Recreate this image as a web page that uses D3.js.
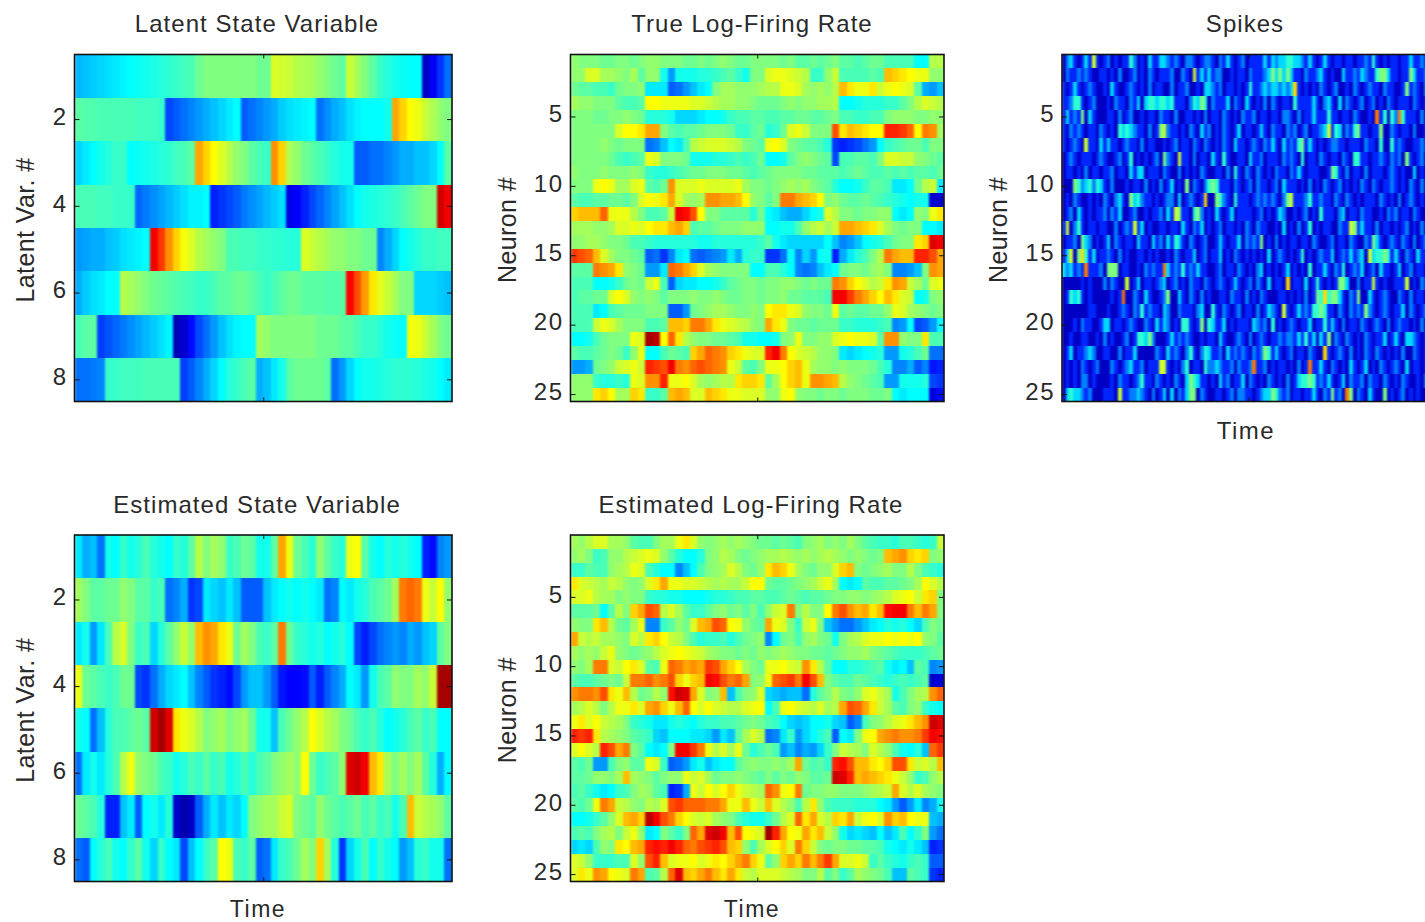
<!DOCTYPE html>
<html><head><meta charset="utf-8">
<script src="https://cdnjs.cloudflare.com/ajax/libs/d3/7.8.5/d3.min.js"></script>
<style>html,body{margin:0;padding:0;background:#fff;overflow:hidden}svg{display:block}text{font-family:"Liberation Sans",Arial,sans-serif;fill:#2a2a2a}</style>
</head><body><svg id="c" width="1425" height="922"></svg>
<script>
// Colour levels are percent positions along the jet colormap.
const latentState=[
[29,30,31,32,33,34,35,36,37,38,39,40,41,42,43,44,48,50,50,50,50,50,50,50,48,48,60,59,58,56,55,54,52,50,48,46,58,54,50,46,42,40,38,37,36,36,6,10,16,22],
[46,45,45,44,44,44,44,44,43,43,43,42,18,20,22,24,26,28,30,32,34,36,20,22,24,26,28,31,33,34,35,36,22,25,28,30,33,35,36,36,36,38,72,68,64,62,58,55,52,50],
[32,34,36,38,40,42,42,36,37,38,39,40,41,43,44,46,72,68,64,60,56,52,50,46,44,42,74,68,55,52,48,46,44,42,40,38,38,20,20,22,22,24,26,28,28,30,30,32,36,46],
[44,44,44,43,43,42,42,42,21,23,25,27,29,31,33,35,35,36,14,16,18,20,23,25,27,29,31,33,9,11,14,18,21,24,27,30,33,36,38,39,40,41,42,44,46,48,50,50,92,88],
[26,27,28,28,30,31,33,34,35,36,88,82,74,68,63,60,56,54,52,50,44,44,43,43,42,42,41,41,40,40,60,58,56,54,52,52,50,50,48,48,24,28,32,36,38,40,42,42,43,43],
[28,31,33,34,36,36,56,54,52,50,48,47,46,45,44,43,42,42,44,46,46,48,48,46,44,42,44,46,48,48,46,46,46,45,45,46,87,80,73,66,61,58,54,50,50,32,32,32,31,30],
[44,46,46,17,19,21,23,25,27,29,31,33,35,5,7,12,18,22,26,30,33,35,36,36,54,52,50,50,50,50,50,50,48,48,48,46,46,44,42,42,40,38,37,36,63,62,58,54,50,48],
[22,22,23,24,42,42,43,43,43,44,44,44,44,44,17,20,24,28,32,36,40,42,44,46,28,30,34,38,46,48,48,48,48,46,22,26,32,36,38,38,39,40,41,41,41,40,39,38,36,34]
];
const estimatedState=[
[34,28,30,22,38,36,42,38,40,44,40,38,36,42,40,46,56,50,54,52,42,44,48,46,38,38,46,72,62,48,44,40,52,46,42,40,62,64,46,38,36,40,38,40,38,36,14,12,24,26],
[54,50,46,46,48,48,52,50,46,46,42,44,22,24,28,16,18,34,32,30,34,30,20,20,20,30,34,36,38,36,38,36,34,22,24,36,34,38,40,44,46,48,54,76,78,76,62,58,64,52],
[34,38,26,34,44,56,60,50,42,44,32,40,46,52,58,52,70,74,72,66,62,48,54,50,44,42,46,76,48,42,40,38,40,36,38,40,36,18,14,18,22,24,26,24,28,26,30,32,46,50],
[62,48,46,44,42,44,48,48,18,16,22,28,32,34,36,30,24,20,16,14,12,18,26,30,30,26,20,13,11,11,12,20,14,20,24,28,36,34,26,38,44,46,52,50,50,54,52,58,96,96],
[38,36,22,30,40,44,44,46,48,46,92,96,90,66,62,60,56,50,52,54,50,52,54,48,38,38,30,44,48,52,56,64,60,56,54,50,48,44,42,44,40,36,38,40,44,46,42,44,36,36],
[22,34,38,34,40,44,56,62,52,50,48,44,42,38,40,44,42,46,42,44,38,40,44,40,44,46,50,52,54,52,64,48,42,44,46,52,90,92,88,70,66,54,50,54,50,54,46,40,28,36],
[48,46,44,40,14,14,30,34,20,36,38,34,40,7,4,6,20,28,34,30,34,32,36,50,52,54,54,58,60,50,48,46,52,48,46,44,46,48,44,46,42,44,38,44,70,58,56,54,52,46],
[22,20,36,40,44,38,36,42,46,38,32,42,36,34,18,30,36,42,46,64,62,44,42,46,20,22,34,42,44,48,54,50,68,54,40,16,32,38,44,36,42,38,36,26,30,40,42,38,38,22]
];
const trueRate=[
[52,50,50,50,48,48,50,50,48,50,52,52,50,50,50,48,48,50,48,50,52,50,48,48,50,50,50,50,48,50,46,46,48,46,48,50,46,46,44,46,48,48,44,44,44,44,36,36,56,56],
[52,52,60,60,54,54,52,50,54,46,52,52,38,26,38,38,38,40,40,42,44,46,42,38,50,50,60,62,62,60,58,56,42,42,52,58,44,44,44,44,46,44,70,68,66,64,62,62,52,52],
[48,46,46,44,44,42,48,50,50,52,34,34,34,20,22,26,30,34,36,50,54,54,52,52,52,54,56,56,62,62,60,54,52,54,52,56,70,66,62,62,66,58,62,64,62,60,46,28,26,30],
[54,52,52,50,50,50,46,44,44,46,64,64,62,62,62,62,60,60,58,56,54,54,52,52,50,48,48,48,50,52,50,52,52,54,54,56,36,36,38,40,40,40,42,42,46,50,56,60,58,56],
[50,50,50,48,48,50,50,52,50,48,40,40,40,38,32,32,32,34,36,36,38,42,44,44,46,46,44,44,46,46,48,48,46,46,48,50,44,44,42,42,44,44,50,52,52,52,50,50,52,52],
[50,50,50,50,50,50,60,64,64,66,72,72,50,46,44,46,46,48,50,50,50,48,42,42,46,48,40,42,48,60,62,58,50,50,50,80,66,70,68,66,64,64,84,84,82,78,64,76,74,54],
[50,50,50,50,52,50,48,50,50,50,22,24,30,36,34,44,56,58,60,60,60,58,56,50,48,46,62,64,60,50,48,46,46,44,40,16,14,16,18,22,26,36,42,44,46,48,48,44,50,50],
[50,50,50,50,50,48,44,42,44,46,62,60,50,50,50,48,38,38,38,40,40,42,44,42,44,48,36,36,38,46,50,52,50,48,46,18,44,44,46,46,44,50,60,60,58,58,52,50,48,46],
[52,50,50,50,52,50,50,50,52,50,42,40,40,42,44,46,48,48,50,50,50,48,48,46,44,46,48,50,50,50,50,48,48,46,46,46,44,46,48,46,44,44,46,44,46,44,46,46,44,48],
[50,50,50,62,64,62,54,54,60,62,46,44,48,74,60,60,60,62,60,60,60,60,62,54,50,50,48,50,52,54,52,54,50,48,46,40,36,36,38,42,46,46,44,34,34,36,48,56,58,34],
[46,44,44,46,46,48,48,46,50,60,64,62,66,72,60,54,52,54,74,74,72,72,70,64,52,50,46,50,76,76,72,70,68,64,50,52,48,46,46,48,46,44,42,40,38,36,38,38,7,7],
[68,70,70,70,78,62,62,62,56,50,44,44,46,58,88,86,80,64,50,50,46,46,46,46,40,48,36,34,30,28,28,32,36,38,60,56,50,50,48,50,50,52,52,36,34,36,52,50,62,66],
[54,54,54,52,52,54,60,60,62,60,64,66,66,70,72,68,44,46,46,48,50,50,50,52,52,52,36,36,38,38,44,52,56,58,54,58,72,72,70,68,66,60,54,50,48,50,50,36,36,34],
[52,52,54,54,52,50,50,48,44,44,42,40,40,40,40,40,40,38,38,40,40,40,40,40,40,42,46,38,34,32,32,32,32,32,36,30,24,26,30,36,38,40,44,48,50,50,66,68,90,88],
[82,80,78,70,60,54,50,50,48,46,20,22,16,24,34,36,22,20,22,24,26,34,28,40,42,42,16,16,22,36,24,32,26,36,38,14,28,34,40,44,50,56,76,72,70,70,84,84,80,72],
[46,46,46,76,74,72,66,52,50,48,26,26,34,78,76,72,68,60,54,52,50,50,50,50,36,36,44,44,40,36,24,22,24,30,34,36,48,50,50,48,52,54,50,24,24,26,30,50,74,72],
[44,44,44,36,36,38,42,48,50,48,58,62,44,20,32,34,34,36,36,38,42,46,48,50,50,48,50,50,52,52,50,48,50,48,48,76,74,68,64,60,56,58,66,74,72,58,54,48,60,62],
[44,46,46,48,48,60,64,60,52,50,52,50,46,50,50,50,52,50,50,52,50,48,48,50,50,48,50,50,52,48,48,46,46,46,44,88,88,82,76,72,68,64,70,66,60,58,36,38,50,52],
[44,44,44,34,36,44,46,48,48,48,50,50,50,20,20,26,48,50,52,54,54,52,50,50,52,50,64,66,66,62,60,52,50,50,48,62,46,48,46,46,48,48,52,62,60,54,52,50,48,50],
[44,44,44,58,62,60,54,50,50,50,44,44,46,70,70,68,76,76,72,66,62,60,58,56,52,50,72,66,62,50,48,48,46,48,48,48,42,42,40,40,40,42,44,24,26,36,18,20,26,36],
[36,36,38,44,48,50,50,50,62,60,96,94,64,78,66,56,52,50,50,48,48,46,44,38,38,36,36,38,50,52,62,50,50,52,52,60,62,64,62,62,60,46,74,74,52,50,50,66,44,44],
[46,44,44,46,48,50,48,42,52,62,36,36,44,48,46,44,68,72,78,76,74,68,66,62,60,60,84,88,76,64,60,58,56,52,52,50,34,32,34,36,38,40,26,26,38,40,44,48,22,22],
[26,26,28,48,50,52,58,60,62,58,84,82,80,88,76,74,78,80,78,76,74,62,58,46,44,50,62,62,64,68,70,62,54,52,52,50,52,50,50,50,48,44,40,24,24,28,20,24,13,14],
[52,52,52,42,40,40,42,40,62,60,74,74,84,62,62,64,60,54,52,54,56,56,66,68,68,66,46,54,64,68,70,62,74,74,72,70,56,52,50,48,46,44,26,26,38,38,38,40,18,16],
[52,52,52,66,68,64,54,54,68,66,42,42,46,70,72,70,60,60,70,68,66,62,62,60,60,60,52,52,62,64,52,50,50,48,50,50,48,50,50,50,48,48,50,36,34,36,36,36,8,12]
];
const estimatedRate=[
[54,52,56,60,60,54,54,52,46,44,44,50,54,54,62,66,60,52,50,52,54,52,54,52,50,48,48,46,48,46,44,50,52,54,50,52,50,54,50,46,44,42,42,40,44,44,42,40,42,58],
[52,54,50,42,44,52,52,56,58,60,62,60,52,46,40,36,36,40,50,52,56,54,50,48,50,52,54,54,56,54,52,54,52,54,56,54,52,50,52,50,48,50,70,72,74,68,66,68,50,52],
[42,42,46,44,44,52,54,56,62,60,44,40,36,36,24,30,36,44,50,52,54,60,56,50,48,52,66,70,68,62,54,50,48,52,52,60,68,70,50,48,50,52,54,50,50,56,50,44,42,40],
[66,60,58,56,54,58,56,52,50,52,60,66,72,62,62,60,60,58,56,54,56,54,54,58,64,64,48,46,46,48,50,52,54,58,62,54,36,34,36,46,44,44,46,46,48,50,54,64,60,56],
[60,60,62,56,54,54,50,52,50,50,42,40,40,38,38,36,36,36,38,40,40,42,44,44,46,46,44,44,46,48,46,44,46,46,48,50,50,52,52,50,52,54,56,60,62,64,58,66,68,50],
[46,46,46,48,36,46,56,50,68,72,80,78,56,60,54,46,42,42,46,50,52,48,50,46,50,44,52,58,60,76,50,56,50,50,64,76,80,74,70,72,66,70,86,88,88,76,70,76,72,50],
[52,50,50,66,70,56,48,46,54,62,24,24,42,46,52,48,60,70,72,80,78,64,62,52,48,46,72,62,60,50,42,58,62,50,30,26,22,22,26,30,34,36,40,38,40,36,32,44,50,48],
[72,58,56,58,54,54,52,50,60,56,66,68,64,58,56,50,44,40,42,42,44,40,44,48,50,52,24,36,48,50,44,52,54,50,48,38,50,54,56,60,62,62,64,62,64,62,64,52,50,46],
[54,52,54,52,58,62,52,50,48,50,52,56,60,62,64,62,60,58,54,52,50,50,48,50,48,52,50,52,54,52,50,50,48,48,46,48,50,52,52,54,50,48,46,44,42,42,42,44,46,48],
[52,50,54,76,76,60,58,64,66,60,46,44,62,78,76,72,74,72,82,80,72,68,64,54,50,48,62,62,64,60,58,74,66,56,46,36,36,40,40,42,44,46,38,34,36,30,46,44,24,26],
[46,44,44,46,48,50,48,58,76,76,78,74,76,80,68,62,68,70,88,86,80,76,78,72,50,52,62,78,80,82,76,88,80,70,50,46,44,44,48,46,44,42,40,42,44,42,44,46,7,8],
[74,76,76,74,80,66,62,70,56,48,50,56,52,86,92,90,72,60,50,52,70,30,44,50,52,60,32,30,28,30,30,22,40,46,50,56,50,48,52,60,62,58,54,38,44,50,54,56,74,78],
[54,56,60,56,50,56,62,62,66,60,72,74,68,62,70,78,64,60,64,60,58,56,56,60,62,64,36,44,62,64,60,58,56,60,54,56,72,80,78,72,66,58,54,46,44,50,52,42,38,36],
[62,66,60,64,58,56,54,50,42,40,38,34,34,38,40,38,36,40,42,42,44,44,46,48,50,48,44,42,36,32,30,32,36,36,38,32,30,20,24,44,50,52,56,60,62,66,70,74,92,90],
[84,82,84,66,56,54,52,50,46,44,42,32,30,36,36,36,34,34,32,26,34,30,46,54,60,56,22,24,34,42,26,32,36,40,44,20,36,34,50,62,64,72,74,76,74,74,76,82,88,86],
[60,64,60,56,84,80,72,76,50,46,36,34,36,50,88,88,82,76,62,56,60,54,62,48,40,44,48,44,26,30,24,28,26,32,42,50,58,56,54,50,60,56,52,44,38,36,40,30,78,82],
[46,44,48,26,26,44,50,52,46,46,62,60,42,20,22,26,34,38,30,34,36,36,46,50,52,50,50,52,50,54,72,48,44,46,42,84,86,80,70,70,66,64,68,80,80,66,58,60,56,70],
[46,46,48,52,52,50,54,70,54,52,50,46,50,52,52,62,58,60,54,48,50,50,52,50,48,46,50,46,50,48,52,50,46,46,48,92,90,84,70,72,70,68,66,62,58,52,42,44,52,56],
[44,46,42,38,34,36,42,44,50,54,52,46,44,14,16,28,62,58,64,60,64,68,62,58,56,54,78,74,62,64,76,48,50,50,52,52,50,50,50,52,54,56,58,72,60,56,60,54,52,50],
[46,44,48,62,76,72,58,56,52,50,56,54,60,80,82,78,78,78,76,76,72,62,62,70,62,58,70,60,56,52,44,56,66,52,44,42,42,42,40,40,40,36,34,26,20,26,34,24,28,38],
[36,36,38,42,46,52,60,70,72,68,94,88,80,76,68,64,60,58,60,54,52,50,44,40,38,38,42,48,56,60,78,66,72,60,56,68,66,72,58,62,64,60,74,68,70,64,62,62,30,28],
[44,46,44,50,54,56,50,58,62,52,34,36,50,46,42,50,78,72,90,92,88,70,80,64,62,60,96,84,72,64,62,72,66,70,58,52,38,32,34,32,30,36,30,34,44,36,42,50,26,22],
[32,34,32,44,52,50,66,64,70,72,84,86,84,88,84,78,76,80,82,84,80,70,68,52,44,54,60,64,68,60,76,68,58,50,48,50,50,48,48,46,46,44,38,36,34,38,34,30,14,16],
[60,58,52,42,42,42,44,44,60,52,80,84,70,60,62,62,64,60,62,66,64,68,72,76,68,62,46,52,68,72,68,76,70,76,82,72,60,60,62,58,42,46,42,40,38,42,44,42,20,20],
[60,66,62,74,72,64,62,60,76,72,44,46,56,78,90,70,68,72,76,70,66,72,66,58,56,60,60,60,58,56,54,50,50,56,46,50,42,46,54,52,50,48,44,30,30,46,44,42,16,14]
];
// Spike counts per neuron (one digit per time bin)
const spikeRows=[
"0231013161012010114201031133212102210122102131012011113132334433213101310110110112141010110113112121",
"0211212100110102001201021011120021061313122001011021112353535311021123101003112132114553110115311211",
"1013101210010310012101020110020112001033212011010141123233232371010102101200102101211021100151210210",
"1124410120001021102130344344341110243540211130210310102021011041111310231030210120120102101110210101",
"1312150310001102012001011021102001101020110210102112011011022102011311141101102100108140428411102011",
"1021210110210104343211020156211010210312010210130110131021102120120112361430214511011500210110200110",
"1012106110313110121102011001012011021021010210311012102131031214513101012211011102110400412100112101",
"0121011101210012014010101205210611020110310410011031120111021210401102101102104411011210212051012011",
"0110102011011201103133011102100201010210011020410210210102110213101110015410201102011101210100301021",
"0005423424310200010110201020130105021024541110210120211012031110102010210120101021021011210102102012",
"0102100101021023105342110101220301210170054210411101212121025611124112110210210101110210102012101011",
"0120310101120213001200101120316511045201031013011110120101320010120104111023011021100102120110210012",
"1602410110110020121613010011011031021301012011010210211001030102014010110021165131102011010120102012",
"0112053201013021011031103120314310210120013101130212150102010110110210012011021002153101210210201210",
"1360574130112102010011010100102101130120113010210101010301210101401012113012131230634454131021031101",
"3231218111205550110010212118312141213110012011021010230101013010104011310214012130120311013012011021",
"0000010100020210060130110123012010211021012101310120210301107011030141010155300201161010011160102110",
"0143410100000101800210310012500310210201001102110201021000110101020154745531021500310121002102011010",
"0000000110001001210214121103200211102300410210120110201321061013121445411021021215210121011302101210",
"0001021100133011012100210313201044101504311301011103212040101210113011413102011021012102012110102010",
"0010011001020100120144352000131212100101103100121020121011212213141303150210210102101130131033210101",
"0130112320011002011300000210312102410243112031212102125413101201102100710121020102102101010200210101",
"0101021012000210123112011166101024011042232112021128112010110102018113102101031013010210121030110120",
"0101022010000102110124110210102103543110103120113021010210102013445412131013021120211021010210010212",
"0343321200011106112232102013030213550210011012022110123354212011011310215120850210310050101201010010"
].map(s=>s.split("").map(Number));
const latentTicks=[2,4,6,8], neuronTicks=[5,10,15,20,25];
const titles=["Latent State Variable","True Log-Firing Rate","Spikes","Estimated State Variable","Estimated Log-Firing Rate"];
const yLabels=["Latent Var. #","Neuron #"];
const timeLabel="Time";

const jet=d3.scaleLinear()
  .domain([0,11,36,50,64,87,100])
  .range(["#00007f","#0000ff","#00ffff","#80ff80","#ffff00","#ff0000","#7f0000"])
  .clamp(true);
const spikeLevel=d3.scaleLinear().domain([0,8]).range([6,76]);
const svg=d3.select("#c");
const defs=svg.append("defs");
const fs=24;
const blur=(id,sx,sy)=>defs.append("filter").attr("id",id).attr("filterUnits","userSpaceOnUse")
  .attr("x",0).attr("y",0).attr("width",1500).attr("height",922).attr("color-interpolation-filters","sRGB")
  .append("feGaussianBlur").attr("stdDeviation",`${sx} ${sy}`);
blur("soft",1.3,0.7); blur("softSpike",0.8,0.5);

function panel(o){
  const {x0,x1,y0,y1,rows,ticks,color,title,titleY,ylab,ylabX,time,timeY,tx,clipId,filter}=o;
  const cols=d3.max(rows,r=>r.length);
  const x=d3.scaleBand().domain(d3.range(cols)).range([x0,x1]);
  const y=d3.scaleBand().domain(d3.range(1,rows.length+1)).range([y0,y1]);
  defs.append("clipPath").attr("id",clipId).append("rect").attr("x",x0).attr("y",y0).attr("width",x1-x0).attr("height",y1-y0);
  const g=svg.append("g").attr("clip-path",`url(#${clipId})`).append("g").attr("filter",`url(#${filter})`);
  g.selectAll("g").data(rows).join("g").attr("transform",(d,r)=>`translate(0,${y(r+1)})`)
    .selectAll("rect").data(d=>d).join("rect")
    .attr("x",(d,c)=>x(c)).attr("width",x.bandwidth()+0.6).attr("height",y.bandwidth()+0.6)
    .attr("shape-rendering","crispEdges").attr("fill",d=>color(d));
  const tl=d3.scaleLinear().domain([0,cols]).range([x0,x1]);
  const mk=a=>a.call(s=>s.select(".domain").remove()).call(s=>s.selectAll("line").attr("stroke","#111"));
  const la=svg.append("g").attr("transform",`translate(${x0},0)`).call(d3.axisLeft(y).tickValues(ticks).tickSize(-5).tickPadding(7));
  mk(la); la.selectAll("text").attr("font-size",fs).attr("dy","0.22em").style("letter-spacing","1.5px").style("fill","#2a2a2a").attr("font-family",'"Liberation Sans"');
  if(x1<1425) mk(svg.append("g").attr("transform",`translate(${x1},0)`).call(d3.axisRight(y).tickValues(ticks).tickSize(-5).tickFormat("")));
  mk(svg.append("g").attr("transform",`translate(0,${y0})`).call(d3.axisTop(tl).tickValues([cols/2]).tickSize(-4).tickFormat("")));
  mk(svg.append("g").attr("transform",`translate(0,${y1})`).call(d3.axisBottom(tl).tickValues([cols/2]).tickSize(-4).tickFormat("")));
  svg.append("rect").attr("x",x0).attr("y",y0).attr("width",x1-x0).attr("height",y1-y0).attr("fill","none").attr("stroke","#111").attr("stroke-width",1.6);
  svg.append("text").attr("x",tx).attr("y",titleY).attr("text-anchor","middle").attr("font-size",fs).style("letter-spacing","1.05px").text(title);
  if(ylab) svg.append("text").attr("transform",`translate(${ylabX},${(y0+y1)/2+2}) rotate(-90)`).attr("text-anchor","middle").attr("font-size",fs+1).style("letter-spacing","0.4px").text(ylab);
  if(time) svg.append("text").attr("x",tx+1).attr("y",timeY).attr("text-anchor","middle").attr("font-size",time===2?23:fs).style("letter-spacing","1.5px").text(timeLabel);
}
const T0=54.5,T1=401.5,B0=535,B1=881.5;
panel({x0:74.5,x1:452,y0:T0,y1:T1,rows:latentState,ticks:latentTicks,color:jet,title:titles[0],titleY:32,ylab:yLabels[0],ylabX:34,tx:257,clipId:"a",filter:"soft"});
panel({x0:570.5,x1:944,y0:T0,y1:T1,rows:trueRate,ticks:neuronTicks,color:jet,title:titles[1],titleY:32,ylab:yLabels[1],ylabX:516,tx:752,clipId:"b",filter:"soft"});
panel({x0:1062,x1:1435,y0:T0,y1:T1,rows:spikeRows,ticks:neuronTicks,color:v=>jet(spikeLevel(v)),title:titles[2],titleY:32,ylab:yLabels[1],ylabX:1007,time:1,timeY:439,tx:1245,clipId:"e",filter:"softSpike"});
panel({x0:74.5,x1:452,y0:B0,y1:B1,rows:estimatedState,ticks:latentTicks,color:jet,title:titles[3],titleY:513,ylab:yLabels[0],ylabX:34,time:2,timeY:916.5,tx:257,clipId:"c1",filter:"soft"});
panel({x0:570.5,x1:944,y0:B0,y1:B1,rows:estimatedRate,ticks:neuronTicks,color:jet,title:titles[4],titleY:513,ylab:yLabels[1],ylabX:516,time:2,timeY:916.5,tx:751,clipId:"d",filter:"soft"});
</script></body></html>
